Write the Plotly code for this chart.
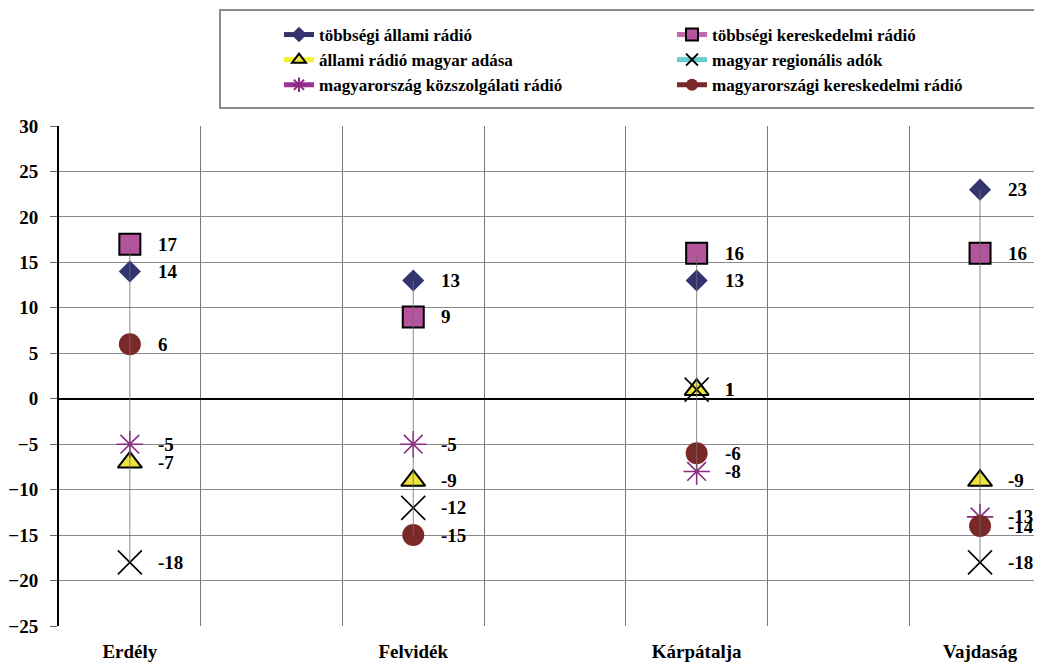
import plotly.graph_objects as go

categories = ["Erdély", "Felvidék", "Kárpátalja", "Vajdaság"]

series_names = [
    "többségi állami rádió",
    "többségi kereskedelmi rádió",
    "állami rádió magyar adása",
    "magyar regionális adók",
    "magyarország közszolgálati rádió",
    "magyarországi kereskedelmi rádió",
]

tobbsegi_allami = [14, 13, 13, 23]
tobbsegi_kereskedelmi = [17, 9, 16, 16]
allami_magyar_adasa = [-7, -9, 1, -9]
magyar_regionalis = [-18, -12, 1, -18]
mo_kozszolgalati = [-5, -5, -8, -13]
mo_kereskedelmi = [6, -15, -6, -14]

y_ticks = [-25, -20, -15, -10, -5, 0, 5, 10, 15, 20, 25, 30]

series_values = [
    tobbsegi_allami,
    tobbsegi_kereskedelmi,
    allami_magyar_adasa,
    magyar_regionalis,
    mo_kozszolgalati,
    mo_kereskedelmi,
]

styles = [
    dict(line="#333366", sym="diamond", fill="#333370", size=17, lc="#333370", lw=0),
    dict(line="#c266ad", sym="square", fill="#b3549c", size=21, lc="#000000", lw=2),
    dict(line="#f2f230", sym="triangle-up", fill="#ece43a", size=21, lc="#000000", lw=2),
    dict(line="#66cccc", sym="x-thin", fill="#000000", size=24, lc="#000000", lw=1.6),
    dict(line="#993399", sym="asterisk-open", fill="#8b2a80", size=22, lc="#8b2a80", lw=1.6),
    dict(line="#7b2a2a", sym="circle", fill="#7b2828", size=22, lc="#7b2828", lw=0),
]

FONT = "Liberation Serif"

# the page body adds an 8px offset; positions below are given in window pixels
OFF = 8
W, H = 1042, 664
L, R, T, B = 59 - OFF, 0, 126 - OFF, 664 - (626 - OFF)
pw = W - L - R
ph = H - T - B
SLOT = 141.7  # px width of one category slot

def px_x(p):
    return (p - OFF - L) / pw

def px_y(p):
    return (H - B - (p - OFF)) / ph

# category slots: each category sits in the middle of every other slot
xpos = [2 * i + 0.5 for i in range(len(categories))]

fig = go.Figure()

for k, (name, vals, st) in enumerate(zip(series_names, series_values, styles)):
    xs, ys = [], []
    for x, v in zip(xpos, vals):
        xs += [x, None]
        ys += [v, None]
    fig.add_trace(go.Scatter(
        x=xs, y=ys, name=name, mode="lines+markers", connectgaps=False,
        line=dict(color=st["line"], width=3),
        marker=dict(symbol=st["sym"], size=st["size"], color=st["fill"],
                    line=dict(color=st["lc"], width=st["lw"])),
        legend="legend" if k % 2 == 0 else "legend2",
        hoverinfo="skip",
    ))

# high-low lines
hx, hy = [], []
for i, x in enumerate(xpos):
    col = [s[i] for s in series_values]
    hx += [x, x, None]
    hy += [max(col), min(col), None]
fig.add_trace(go.Scatter(x=hx, y=hy, mode="lines", showlegend=False,
                         line=dict(color="rgba(110,110,110,0.8)", width=1),
                         hoverinfo="skip"))

annotations = []
for vals in series_values:
    for x, v in zip(xpos, vals):
        annotations.append(dict(
            x=x, y=v, xref="x", yref="y", text=str(v), showarrow=False,
            xanchor="left", yanchor="middle", xshift=26,
            font=dict(family=FONT, size=19, color="black", weight="bold"),
        ))

fig.add_shape(type="rect", xref="paper", yref="paper",
              x0=px_x(220), x1=px_x(1070), y0=px_y(108), y1=px_y(10),
              line=dict(color="#8c8c8c", width=2), fillcolor="rgba(0,0,0,0)")

legend_common = dict(
    orientation="v", xanchor="left", yanchor="top", itemsizing="constant",
    font=dict(family=FONT, size=17, color="black", weight="bold"),
    bgcolor="rgba(0,0,0,0)", borderwidth=0, tracegroupgap=0,
)

fig.update_layout(
    width=W, height=H,
    margin=dict(l=L, r=R, t=T, b=B, pad=0, autoexpand=False),
    paper_bgcolor="white", plot_bgcolor="white",
    annotations=annotations,
    showlegend=True,
    legend=dict(x=px_x(279), y=px_y(17), **legend_common),
    legend2=dict(x=px_x(672), y=px_y(17), **legend_common),
    xaxis=dict(
        range=[0, (W + OFF - 59) / SLOT], tickmode="array", tickvals=xpos, ticktext=categories,
        showgrid=False, zeroline=False, ticks="", showline=False, automargin=False,
        ticklabelstandoff=12,
        tickfont=dict(family=FONT, size=19, color="black", weight="bold"),
        minor=dict(tick0=0, dtick=1, showgrid=True, gridcolor="#7a7a7a", gridwidth=1, ticks=""),
        fixedrange=True,
    ),
    yaxis=dict(
        range=[-25, 30], tickmode="array", tickvals=y_ticks, automargin=False,
        showgrid=True, gridcolor="#8a8a8a", gridwidth=1,
        zeroline=True, zerolinecolor="black", zerolinewidth=1.5,
        showline=True, linecolor="black", linewidth=2,
        ticks="outside", ticklen=7, tickcolor="#666666", ticklabelstandoff=8,
        tickfont=dict(family=FONT, size=19, color="black", weight="bold"),
        fixedrange=True,
    ),
)

fig.write_html("out.html")
